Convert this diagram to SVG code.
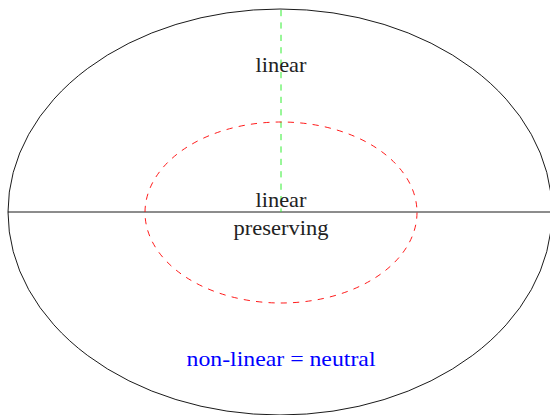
<svg xmlns="http://www.w3.org/2000/svg" width="550" height="415" viewBox="0 0 550 415">
<style>
.t{font-family:"Liberation Serif","Times New Roman",serif;font-size:21px;text-anchor:middle;fill:#222}
.solid{fill:none;stroke:#000;stroke-width:0.9}
</style>
<rect width="550" height="415" fill="#fff"/>
<g id="outer"><ellipse class="solid" cx="280" cy="212" rx="272" ry="203"/></g>
<g id="connectors">
<line class="solid" x1="8" y1="212" x2="552" y2="212"/>
<line x1="281" y1="10" x2="281" y2="212" stroke="#33ee33" stroke-width="1" stroke-dasharray="6.2,6.2"/>
</g>
<g id="inner"><ellipse cx="281" cy="212.5" rx="136" ry="90.5" fill="none" stroke="#ff0000" stroke-width="0.9" stroke-dasharray="6.2,6.2"/></g>
<g id="labels">
<text class="t" x="281" y="72" textLength="51" lengthAdjust="spacingAndGlyphs">linear</text>
<text class="t" x="281" y="207" textLength="51" lengthAdjust="spacingAndGlyphs">linear</text>
<text class="t" x="281" y="235" textLength="95" lengthAdjust="spacingAndGlyphs">preserving</text>
<text class="t" x="281" y="366" style="fill:#0000ff" textLength="189" lengthAdjust="spacingAndGlyphs">non-linear = neutral</text>
</g>
</svg>
